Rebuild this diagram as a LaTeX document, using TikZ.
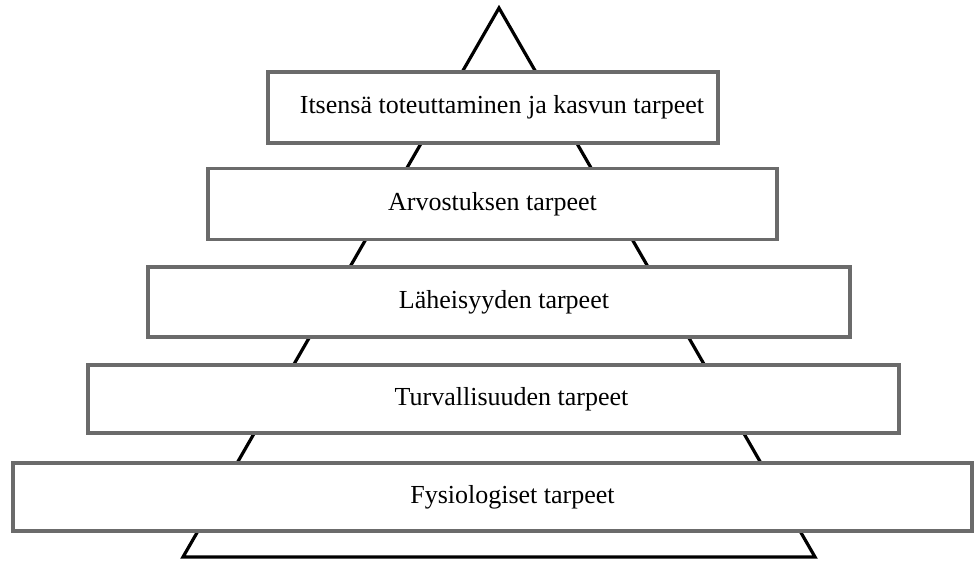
\documentclass[tikz,border=0pt]{standalone}
\usepackage{fontspec}
\setmainfont{Liberation Serif}
\begin{document}
\begin{tikzpicture}[x=1pt,y=-1pt,
  level/.style={draw=black!58, line width=3.6pt, fill=white, inner sep=0pt,
    font=\fontsize{26}{30}\selectfont},
  outline/.style={draw=black, line width=3.2pt, line join=miter}]
  \useasboundingbox (0,0) rectangle (974,561);
  % pyramid outline behind the levels
  \coordinate (apex) at (499,8);
  \coordinate (baseL) at (183,557);
  \coordinate (baseR) at (815,557);
  \draw[outline] (baseL) -- (apex) -- (baseR) -- cycle;
  % the five levels, top to bottom
  \node[level, minimum width=450pt, minimum height=71pt] (self) at (493,107.5)
    {\hspace*{18pt}Itsensä toteuttaminen ja kasvun tarpeet};
  \node[level, minimum width=569pt, minimum height=71pt] (esteem) at (492.5,204)
    {Arvostuksen tarpeet};
  \node[level, minimum width=702pt, minimum height=70pt] (love) at (499,302)
    {\hspace*{10pt}Läheisyyden tarpeet};
  \node[level, minimum width=811pt, minimum height=68pt] (safety) at (493.5,399)
    {\hspace*{36pt}Turvallisuuden tarpeet};
  \node[level, minimum width=959pt, minimum height=68pt] (phys) at (492.5,497)
    {\hspace*{40pt}Fysiologiset tarpeet};
\end{tikzpicture}
\end{document}
